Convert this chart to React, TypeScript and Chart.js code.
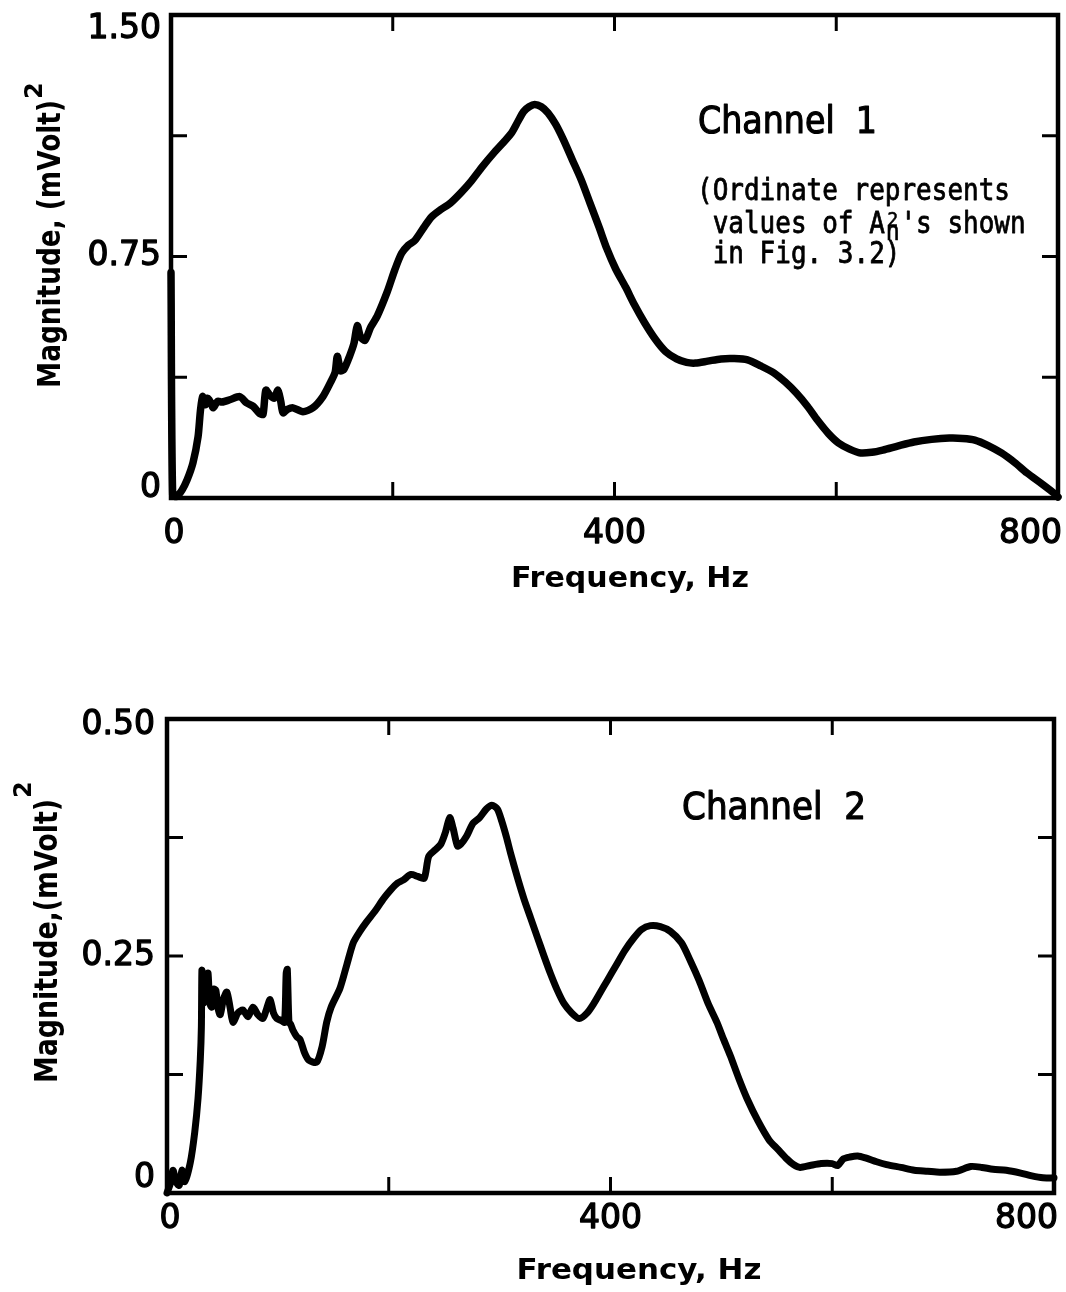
import React, { useEffect, useRef } from 'react';
import { Chart, registerables } from 'chart.js';

Chart.register(...registerables);

// ---------- Data ----------
const ch1Freq = [0, 1.5, 5, 10, 14.5, 19.8, 24.4, 26.5, 28.5, 31, 33, 36, 38, 42, 46, 53, 62, 68, 74, 80, 83, 85.5, 89, 93, 96.5, 99, 101, 105, 110, 119, 128, 137, 144, 148, 150, 153, 156, 161, 165, 168, 171, 175, 180, 186, 195, 202, 208, 214, 220, 228, 235, 243, 252, 262, 271, 281, 291, 300, 307, 313, 318, 323, 328, 334, 340, 347, 354, 362, 370, 378, 386, 393, 401, 410, 418, 427, 437, 446, 456, 465, 473, 484, 496, 508, 520, 532, 544, 554, 564, 574, 583, 593, 602, 612, 622, 632, 642, 656, 670, 686, 702, 714, 725, 737, 749, 761, 772, 785, 796, 800];
const ch1Mag = [0.70, 0.01, 0.005, 0.025, 0.056, 0.109, 0.19, 0.27, 0.315, 0.29, 0.31, 0.295, 0.28, 0.3, 0.298, 0.305, 0.315, 0.296, 0.285, 0.262, 0.26, 0.335, 0.32, 0.31, 0.335, 0.3, 0.265, 0.275, 0.28, 0.268, 0.28, 0.315, 0.36, 0.39, 0.44, 0.395, 0.4, 0.44, 0.48, 0.535, 0.5, 0.49, 0.53, 0.565, 0.64, 0.71, 0.76, 0.785, 0.8, 0.84, 0.873, 0.895, 0.916, 0.95, 0.985, 1.03, 1.071, 1.105, 1.133, 1.17, 1.2, 1.215, 1.222, 1.215, 1.196, 1.16, 1.112, 1.05, 0.988, 0.915, 0.842, 0.775, 0.712, 0.655, 0.6, 0.545, 0.492, 0.455, 0.432, 0.421, 0.419, 0.425, 0.432, 0.433, 0.429, 0.41, 0.388, 0.36, 0.326, 0.285, 0.242, 0.2, 0.171, 0.152, 0.14, 0.142, 0.149, 0.162, 0.174, 0.182, 0.186, 0.185, 0.18, 0.163, 0.14, 0.11, 0.078, 0.045, 0.016, 0.003];

const ch2Freq = [0, 3, 5.4, 8, 11, 13.5, 16, 21, 25, 28, 30, 31, 31.5, 32.5, 34, 35.5, 37, 38.5, 40.5, 42, 44, 46, 48, 51, 54, 57, 59.5, 64, 68.5, 73, 77.5, 82, 86.5, 90, 93, 96, 99, 103, 106, 107.5, 108.5, 110, 111.5, 113.5, 117, 120, 124, 128, 135, 140, 144, 148, 156, 162, 168, 174, 180, 188, 195, 202, 208, 213, 220, 226, 232, 236, 242, 247, 251, 255, 258, 262, 265, 270, 276, 282, 288, 293, 298, 302, 306, 310, 316, 322, 328, 334, 340, 346, 352, 358, 365, 372, 379, 385, 391, 397, 405, 413, 421, 428, 436, 445, 454, 464, 472, 480, 488, 496, 502, 508, 516, 523, 533, 543, 551, 559, 565, 571, 580, 590, 600, 605, 610, 616, 623, 630, 640, 649, 662, 674, 686, 697, 712, 725, 735, 745, 757, 770, 780, 790, 800];
const ch2Mag = [0.0, 0.01, 0.024, 0.012, 0.008, 0.024, 0.012, 0.032, 0.064, 0.1, 0.14, 0.175, 0.235, 0.2, 0.205, 0.225, 0.232, 0.2, 0.196, 0.215, 0.214, 0.195, 0.188, 0.205, 0.212, 0.195, 0.18, 0.19, 0.193, 0.186, 0.196, 0.188, 0.184, 0.195, 0.204, 0.19, 0.184, 0.182, 0.18, 0.232, 0.236, 0.18, 0.178, 0.172, 0.165, 0.162, 0.148, 0.14, 0.138, 0.155, 0.18, 0.196, 0.216, 0.24, 0.264, 0.276, 0.286, 0.298, 0.31, 0.32, 0.327, 0.33, 0.336, 0.334, 0.332, 0.355, 0.362, 0.368, 0.38, 0.396, 0.385, 0.366, 0.368, 0.376, 0.39, 0.396, 0.405, 0.409, 0.405, 0.392, 0.376, 0.358, 0.333, 0.31, 0.29, 0.27, 0.25, 0.231, 0.214, 0.2, 0.19, 0.184, 0.19, 0.2, 0.212, 0.224, 0.24, 0.256, 0.269, 0.278, 0.282, 0.281, 0.276, 0.264, 0.245, 0.224, 0.2, 0.18, 0.162, 0.145, 0.12, 0.1, 0.076, 0.056, 0.046, 0.036, 0.03, 0.027, 0.029, 0.031, 0.031, 0.029, 0.036, 0.038, 0.039, 0.037, 0.033, 0.03, 0.027, 0.024, 0.023, 0.022, 0.023, 0.028, 0.027, 0.025, 0.024, 0.021, 0.018, 0.016, 0.016];

const xTickValues = [0, 200, 400, 600, 800];
const xTickLabels = ['0', '', '400', '', '800'];
const ch1YTickValues = [0, 0.375, 0.75, 1.125, 1.5];
const ch1YTickLabels = ['0', '', '0.75', '', '1.50'];
const ch2YTickValues = [0, 0.125, 0.25, 0.375, 0.5];
const ch2YTickLabels = ['0', '', '0.25', '', '0.50'];

const xTitle = 'Frequency, Hz';
const ch1YTitle = 'Magnitude, (mVolt)';
const ch2YTitle = 'Magnitude,(mVolt)';
const ch1Label = 'Channel  1';
const ch2Label = 'Channel  2';
const noteLines = ['(Ordinate represents', ' values of A', "'s shown", ' in Fig. 3.2)'];

// ---------- drawing helpers ----------
function drawFit(ctx: CanvasRenderingContext2D, text: string, x: number, y: number, font: string, width: number, align: 'left' | 'center' | 'right', stroke = 0) {
  ctx.font = font;
  ctx.textAlign = 'left';
  const w = ctx.measureText(text).width;
  const sx = width / w;
  ctx.save();
  ctx.translate(x, y);
  ctx.scale(sx, 1);
  const dx = align === 'center' ? -w / 2 : align === 'right' ? -w : 0;
  ctx.fillText(text, dx, 0);
  if (stroke > 0) {
    ctx.lineWidth = stroke;
    ctx.lineJoin = 'round';
    ctx.strokeText(text, dx, 0);
  }
  ctx.restore();
}

const panelPlugin = {
  id: 'panel',
  afterDatasetsDraw(chart: any) {
    const o = chart.options.plugins.panel;
    const { ctx, chartArea: a } = chart;
    const xs = chart.scales.x;
    const ys = chart.scales.y;
    ctx.save();
    ctx.fillStyle = '#000';
    ctx.strokeStyle = '#000';
    // frame
    ctx.lineWidth = 4.5;
    ctx.strokeRect(a.left, a.top, a.right - a.left, a.bottom - a.top);
    // inward ticks
    ctx.lineWidth = 3;
    ctx.beginPath();
    o.xTicks.forEach((v: number, i: number) => {
      if (i === 0 || i === o.xTicks.length - 1) return;
      const px = xs.getPixelForValue(v);
      ctx.moveTo(px, a.top);
      ctx.lineTo(px, a.top + 16);
      ctx.moveTo(px, a.bottom);
      ctx.lineTo(px, a.bottom - 16);
    });
    o.yTicks.forEach((v: number, i: number) => {
      if (i === 0 || i === o.yTicks.length - 1) return;
      const py = ys.getPixelForValue(v);
      ctx.moveTo(a.left, py);
      ctx.lineTo(a.left + 16, py);
      ctx.moveTo(a.right, py);
      ctx.lineTo(a.right - 16, py);
    });
    ctx.stroke();

    // tick labels
    ctx.font = '33px "DejaVu Sans"';
    ctx.textBaseline = 'middle';
    ctx.lineWidth = 1.3;
    ctx.lineJoin = 'round';
    const put = (t: string, x: number, y: number) => { ctx.fillText(t, x, y); ctx.strokeText(t, x, y); };
    o.xTicks.forEach((v: number, i: number) => {
      const lab = o.xLabels[i];
      if (!lab) return;
      const px = xs.getPixelForValue(v);
      const py = a.bottom + o.xLabelOffset;
      if (i === 0) { ctx.textAlign = 'center'; put(lab, px + 3, py); }
      else if (i === o.xTicks.length - 1) { ctx.textAlign = 'right'; put(lab, px + 4, py); }
      else { ctx.textAlign = 'center'; put(lab, px, py); }
    });
    o.yTicks.forEach((v: number, i: number) => {
      const lab = o.yLabels[i];
      if (!lab) return;
      let py = ys.getPixelForValue(v);
      py = Math.max(a.top + o.yShiftTop, Math.min(a.bottom - o.yShiftBottom, py));
      ctx.textAlign = 'right';
      put(lab, a.left - o.yLabelGap, py);
    });

    // x title
    ctx.textBaseline = 'alphabetic';
    drawFit(ctx, xTitle, o.xTitleX, o.xTitleY, 'bold 28px "DejaVu Sans"', o.xTitleW, 'center');

    // y title (rotated)
    ctx.save();
    ctx.translate(o.yTitleBaseX, o.yTitleCenterY);
    ctx.rotate(-Math.PI / 2);
    drawFit(ctx, o.yTitle, 0, 0, 'bold 32px "DejaVu Sans"', o.yTitleW, 'center');
    ctx.font = 'bold 24px "DejaVu Sans"';
    ctx.textAlign = 'left';
    ctx.fillText('2', o.yTitleW / 2 + 1, -o.supRaise);
    ctx.restore();

    // channel label
    drawFit(ctx, o.label, o.labelX, o.labelY, '37px "DejaVu Sans"', o.labelW, 'left', 1.2);

    // note
    if (o.note) {
      const cw = 15.65;
      const f = '30px "DejaVu Sans Mono"';
      const x0 = 697;
      drawFit(ctx, noteLines[0], x0, 200, f, noteLines[0].length * cw, 'left', 0.8);
      drawFit(ctx, noteLines[1], x0, 233, f, noteLines[1].length * cw, 'left', 0.8);
      const cx = x0 + noteLines[1].length * cw + cw / 2;
      drawFit(ctx, '2', cx, 226, '20px "DejaVu Sans Mono"', 11, 'center', 0.5);
      drawFit(ctx, 'n', cx, 240, '26px "DejaVu Sans Mono"', 14, 'center', 0.6);
      drawFit(ctx, noteLines[2], x0 + (noteLines[1].length + 1) * cw, 233, f, noteLines[2].length * cw, 'left', 0.8);
      drawFit(ctx, noteLines[3], x0, 263, f, noteLines[3].length * cw, 'left', 0.8);
    }
    ctx.restore();
  },
};

function makeConfig(freq: number[], mag: number[], yMax: number, padding: any, panel: any, width: number): any {
  return {
    type: 'line',
    data: {
      datasets: [{
        data: freq.map((f, i) => ({ x: f, y: mag[i] })),
        borderColor: '#000',
        borderWidth: width,
        pointRadius: 0,
        tension: 0.25,
        borderJoinStyle: 'round',
        borderCapStyle: 'round',
        fill: false,
        clip: false,
      }],
    },
    options: {
      responsive: false,
      maintainAspectRatio: false,
      animation: false,
      events: [],
      layout: { padding },
      scales: {
        x: { type: 'linear', min: 0, max: 800, display: false },
        y: { type: 'linear', min: 0, max: yMax, display: false },
      },
      plugins: { legend: { display: false }, tooltip: { enabled: false }, panel },
    },
    plugins: [panelPlugin],
  };
}

export default function App() {
  const c1 = useRef<HTMLCanvasElement>(null);
  const c2 = useRef<HTMLCanvasElement>(null);

  useEffect(() => {
    const ch1 = new Chart(c1.current!, makeConfig(ch1Freq, ch1Mag, 1.5,
      { left: 171, right: 8, top: 15, bottom: 122 },
      {
        xTicks: xTickValues, xLabels: xTickLabels, yTicks: ch1YTickValues, yLabels: ch1YTickLabels,
        xLabelOffset: 36, yShiftTop: 14, yShiftBottom: 10, yLabelGap: 10,
        xTitleX: 630, xTitleY: 587, xTitleW: 238,
        yTitle: ch1YTitle, yTitleBaseX: 60, yTitleCenterY: 244, yTitleW: 288, supRaise: 18,
        label: ch1Label, labelX: 698, labelY: 133, labelW: 179, note: true,
      }, 7.5));
    const ch2 = new Chart(c2.current!, makeConfig(ch2Freq, ch2Mag, 0.5,
      { left: 167, right: 12, top: 99, bottom: 99 },
      {
        xTicks: xTickValues, xLabels: xTickLabels, yTicks: ch2YTickValues, yLabels: ch2YTickLabels,
        xLabelOffset: 26, yShiftTop: 6, yShiftBottom: 15, yLabelGap: 12,
        xTitleX: 639, xTitleY: 1279 - 620, xTitleW: 245,
        yTitle: ch2YTitle, yTitleBaseX: 57, yTitleCenterY: 941 - 620, yTitleW: 284, supRaise: 26,
        label: ch2Label, labelX: 682, labelY: 819 - 620, labelW: 184, note: false,
      }, 7));
    return () => { ch1.destroy(); ch2.destroy(); };
  }, []);

  return (
    <div style={{ position: 'absolute', left: 0, top: 0, width: 1066, height: 1292, background: '#fff' }}>
      <canvas ref={c1} width={1066} height={620} style={{ position: 'absolute', left: 0, top: 0 }} />
      <canvas ref={c2} width={1066} height={672} style={{ position: 'absolute', left: 0, top: 620 }} />
    </div>
  );
}
